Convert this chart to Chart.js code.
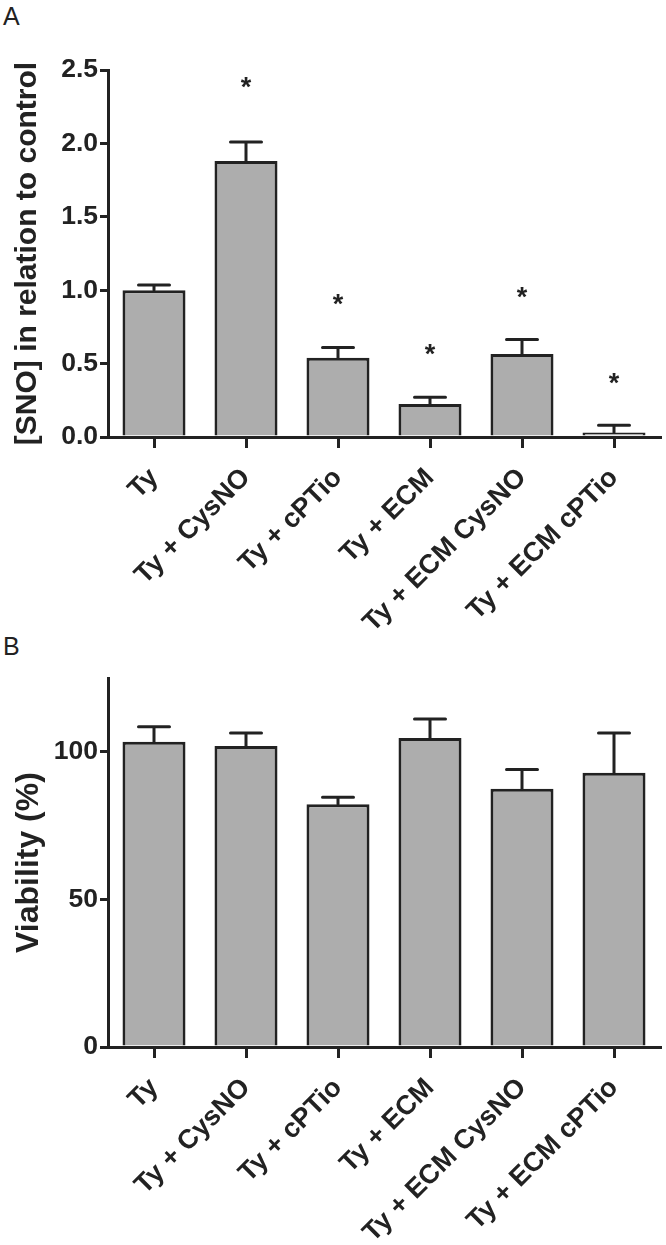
<!DOCTYPE html>
<html>
<head>
<meta charset="utf-8">
<script src="https://cdn.jsdelivr.net/npm/chart.js@4"></script>
<style>
  body { margin: 0; background: #fff; width: 666px; height: 1245px; position: relative; overflow: hidden; }
  canvas { position: absolute; left: 0; }
  .panel { position: absolute; left: 3px; font: 25px "Liberation Sans", Arial, sans-serif; color: #222; line-height: 1; }
</style>
</head>
<body>
<div class="panel" style="top:4px">A</div>
<div class="panel" style="top:634px">B</div>
<canvas id="chartA" width="666" height="650" style="top:0"></canvas>
<canvas id="chartB" width="666" height="625" style="top:620px"></canvas>
<script>
// categories shared by both panels
const categories = ['Ty', 'Ty + CysNO', 'Ty + cPTio', 'Ty + ECM', 'Ty + ECM CysNO', 'Ty + ECM cPTio'];

// panel A: [SNO] relative to control
const snoMean = [1.00, 1.88, 0.54, 0.225, 0.565, 0.03];
const snoErr = [0.035, 0.13, 0.07, 0.045, 0.10, 0.05];
const snoStars = [null, 2.43, 0.95, 0.61, 1.0, 0.41];
const snoTicks = [0, 0.5, 1.0, 1.5, 2.0, 2.5];

// panel B: viability (%)
const viabMean = [103.4, 102, 82.2, 104.7, 87.5, 92.9];
const viabErr = [5.1, 4.4, 2.4, 6.4, 6.5, 13.5];
const viabTicks = [0, 50, 100];

const ink = '#222222';
const barFill = '#adadad';
Chart.defaults.font.family = "'Liberation Sans', Arial, sans-serif";
Chart.defaults.color = ink;

// draws the upper error whisker and the significance stars
function whiskers(errors, stars) {
  return {
    id: 'whiskers',
    afterDatasetsDraw(chart) {
      const ctx = chart.ctx;
      const y = chart.scales.y;
      const data = chart.data.datasets[0].data;
      ctx.save();
      ctx.strokeStyle = ink;
      ctx.fillStyle = ink;
      ctx.lineWidth = 3;
      ctx.lineCap = 'round';
      chart.getDatasetMeta(0).data.forEach((bar, i) => {
        const top = y.getPixelForValue(data[i] + errors[i]);
        ctx.beginPath();
        ctx.moveTo(bar.x, bar.y);
        ctx.lineTo(bar.x, top);
        ctx.moveTo(bar.x - 15.5, top);
        ctx.lineTo(bar.x + 15.5, top);
        ctx.stroke();
        if (stars && stars[i] != null) {
          ctx.font = "bold 27px 'Liberation Sans', Arial, sans-serif";
          ctx.textAlign = 'center';
          ctx.textBaseline = 'alphabetic';
          ctx.fillText('*', bar.x, y.getPixelForValue(stars[i]) + 0.58 * 27);
        }
      });
      ctx.restore();
    }
  };
}

function makeChart(id, values, errors, stars, ticks, yMax, title, titleSize, fmt, padTop, xHeight) {
  return new Chart(document.getElementById(id), {
    type: 'bar',
    data: {
      labels: categories,
      datasets: [{
        data: values,
        backgroundColor: barFill,
        borderColor: ink,
        borderWidth: 3,
        borderSkipped: 'start',
        categoryPercentage: 1,
        barPercentage: 0.685
      }]
    },
    options: {
      responsive: false,
      animation: false,
      layout: { padding: { top: padTop, right: 6, left: 0, bottom: 0 } },
      plugins: { legend: { display: false }, tooltip: { enabled: false } },
      scales: {
        x: {
          z: 1,
          border: { color: ink, width: 3 },
          grid: { offset: false, drawOnChartArea: false, color: ink, lineWidth: 3, tickLength: 11 },
          ticks: { font: { size: 27, weight: 'bold' }, color: ink, maxRotation: 45, minRotation: 45, autoSkip: false, padding: 14 },
          afterFit: s => { s.height = xHeight; }
        },
        y: {
          min: 0,
          max: yMax,
          border: { color: ink, width: 3 },
          grid: { drawOnChartArea: false, color: ink, lineWidth: 3, tickLength: 8 },
          ticks: { font: { size: 26.5, weight: 'bold' }, color: ink, padding: 2, callback: fmt },
          title: { display: true, text: title, font: { size: titleSize, weight: 'bold' }, color: ink, padding: { top: 10, bottom: 0 } },
          afterBuildTicks: s => { s.ticks = ticks.map(v => ({ value: v })); },
          afterFit: s => { s.width = 108; }
        }
      }
    },
    plugins: [whiskers(errors, stars)]
  });
}

makeChart('chartA', snoMean, snoErr, snoStars, snoTicks, 2.5, '[SNO] in relation to control', 30, v => v.toFixed(1), 70, 213);
makeChart('chartB', viabMean, viabErr, null, viabTicks, 125, 'Viability (%)', 32, v => v, 58, 198);
</script>
</body>
</html>
